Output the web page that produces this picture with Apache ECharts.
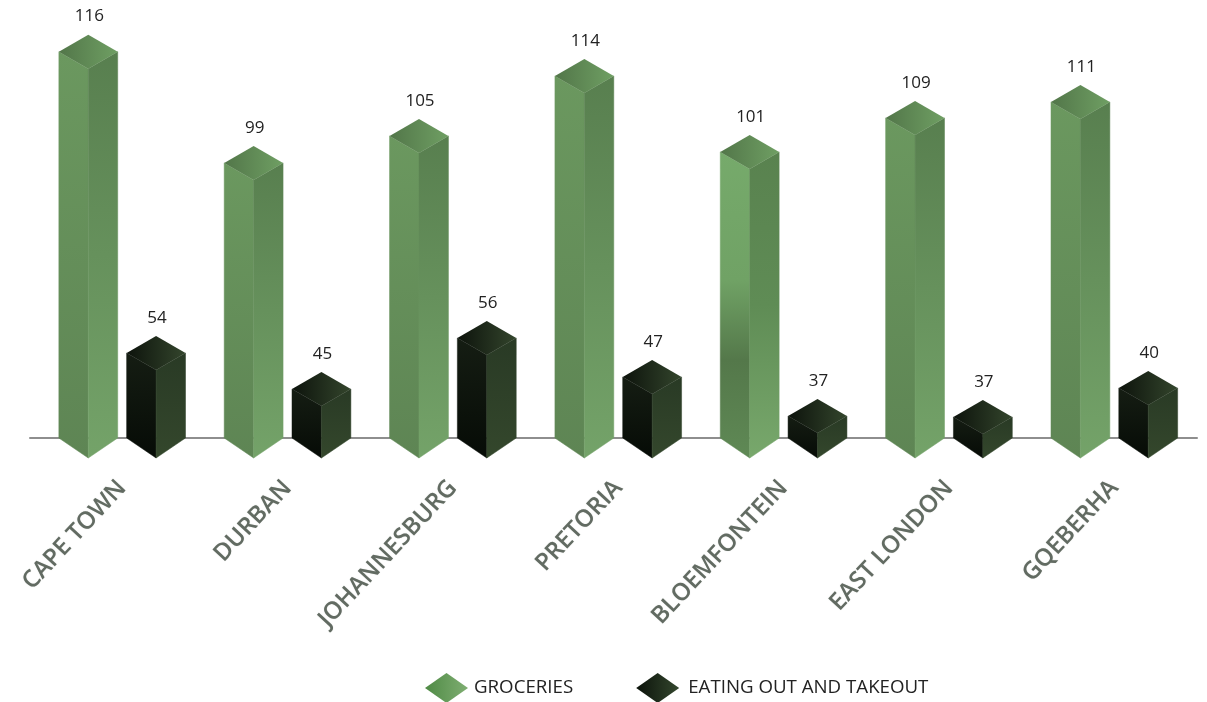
<!DOCTYPE html>
<html><head><meta charset="utf-8">
<style>html,body{margin:0;padding:0;background:#fff}#c{width:1207px;height:702px}</style>
<script src="https://cdn.jsdelivr.net/npm/echarts@6/dist/echarts.min.js"></script>
</head><body><div id="c"></div>
<script>
const cities = ['CAPE TOWN','DURBAN','JOHANNESBURG','PRETORIA','BLOEMFONTEIN','EAST LONDON','GQEBERHA'];
// Printed values
const groceries = [116,99,105,114,101,109,111];
const eatingOut = [54,45,56,47,37,37,40];
// Drawn bar heights (the infographic's heights are not proportional to its printed values)
const groceriesDrawn = [116,82.6,90.7,108.7,85.9,96.1,100.9];
const eatingOutDrawn = [25.5,14.7,30,18.3,6.6,6.3,15];

const lg = (a,b,h)=>new echarts.graphic.LinearGradient(0,0,h?1:0,h?0:1,[{offset:0,color:a},{offset:1,color:b}]);
const lgStops = (stops)=>new echarts.graphic.LinearGradient(0,0,0,1,stops.map(s=>({offset:s[0],color:s[1]})));
const paletteGreen = {
  top: ()=>lg('#527649','#6f9f63',true),
  left: ()=>lg('#6b985f','#5e8554'),
  right: ()=>lg('#587f4f','#74a369')
};
const paletteDark = {
  top: ()=>lg('#0d130c','#33452c',true),
  left: ()=>lg('#151d13','#060b06'),
  right: ()=>lg('#293a25','#34472c')
};
const bloemLeft = ()=>lgStops([[0,'#76aa6b'],[0.42,'#70a265'],[0.68,'#54784a'],[1,'#5f8955']]);
const bloemRight = ()=>lgStops([[0,'#59824f'],[0.5,'#5f8c55'],[1,'#78a86c']]);

function bars(pal, offsetFrac, isGreen){
  return function(params, api){
    const i = api.value(0);
    const band = api.size([1,0])[0];
    const cx = api.coord([i,0])[0] + band*offsetFrac;
    const base = api.coord([i,0])[1];
    const top = api.coord([i,api.value(1)])[1];
    const hw = band*0.178, dyT = 17, dyB = 20;
    const left = isGreen && i===4 ? bloemLeft() : pal.left();
    const right = isGreen && i===4 ? bloemRight() : pal.right();
    return {type:'group',children:[
      {type:'polygon',shape:{points:[[cx-hw,top],[cx,top+dyT],[cx,base+dyB],[cx-hw,base]]},style:{fill:left,stroke:left,lineWidth:0.5}},
      {type:'polygon',shape:{points:[[cx+hw,top],[cx,top+dyT],[cx,base+dyB],[cx+hw,base]]},style:{fill:right,stroke:right,lineWidth:0.5}},
      {type:'polygon',shape:{points:[[cx-hw,top],[cx,top-dyT],[cx+hw,top],[cx,top+dyT]]},style:{fill:pal.top()}},
      {type:'text',style:{text:String(api.value(2)),x:cx+1,y:top-35,align:'center',verticalAlign:'middle',
        font:'17px "Open Sans"',fill:'#222'}}
    ]};
  };
}
const rows = (h,v)=>cities.map((c,i)=>[i,h[i],v[i]]);

const chart = echarts.init(document.getElementById('c'),null,{renderer:'canvas'});
chart.setOption({
  animation:false,
  backgroundColor:'#fff',
  grid:[
    {left:39.5,width:1157.5,top:5,height:433},
    {left:30,width:1167,top:5,height:433}
  ],
  xAxis:[
    {type:'category',data:cities,gridIndex:0,axisLine:{show:false},axisTick:{show:false},
     axisLabel:{rotate:47,interval:0,margin:46,color:'#626b62',fontFamily:'Open Sans',fontWeight:600,fontSize:24,
       textShadowColor:'rgba(98,107,98,0.35)',textShadowBlur:1}},
    {type:'category',data:[''],gridIndex:1,axisLine:{show:true,lineStyle:{color:'#8e8e8e',width:2}},axisTick:{show:false},axisLabel:{show:false}}
  ],
  yAxis:[
    {type:'value',min:0,max:130,gridIndex:0,show:false},
    {type:'value',min:0,max:130,gridIndex:1,show:false}
  ],
  legend:{left:420,top:668,itemWidth:43,itemHeight:30,itemGap:63,icon:'diamond',
    textStyle:{fontFamily:'Open Sans',fontSize:18.7,color:'#222',padding:[0,0,0,1]},
    data:[{name:'GROCERIES'},{name:'EATING OUT AND TAKEOUT',textStyle:{padding:[0,0,0,4]}}]},
  series:[
    {name:'GROCERIES',type:'custom',z:5,clip:false,encode:{x:0,y:1},data:rows(groceriesDrawn,groceries),
     renderItem:bars(paletteGreen,-0.205,true),itemStyle:{color:lg('#4f8a45','#7fae72',true)}},
    {name:'EATING OUT AND TAKEOUT',type:'custom',z:5,clip:false,encode:{x:0,y:1},data:rows(eatingOutDrawn,eatingOut),
     renderItem:bars(paletteDark,0.205,false),itemStyle:{color:lg('#0b120a','#34472e',true)}}
  ]
});
</script></body></html>
